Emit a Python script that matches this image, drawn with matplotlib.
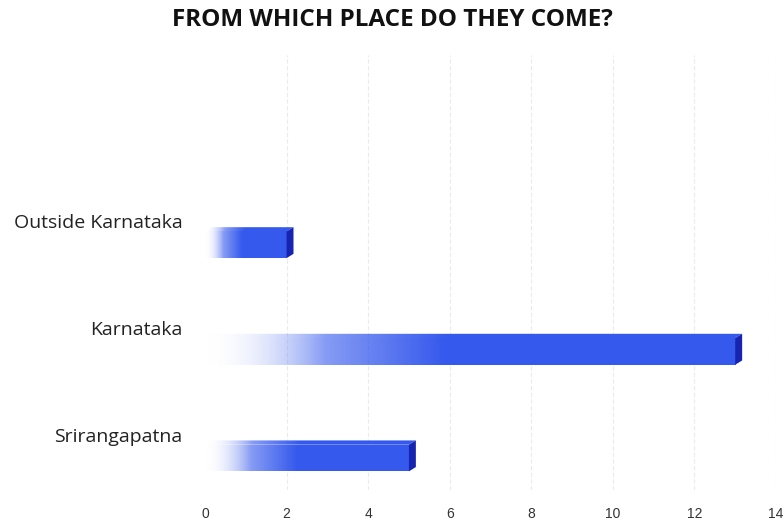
import matplotlib.pyplot as plt
import numpy as np
from matplotlib.colors import LinearSegmentedColormap
from matplotlib.patches import Polygon, Rectangle

places = ['Srirangapatna', 'Karnataka', 'Outside Karnataka']
counts = [5, 13, 2]
x_ticks = [0, 2, 4, 6, 8, 10, 12, 14]

side_color = '#1624b0'
top_color = '#2a47d8'

fig = plt.figure(figsize=(7.84, 5.21), dpi=100)
ax = fig.add_axes([205 / 784, 31 / 521, 571 / 784, 435 / 521])
ax.set_xlim(0, 14)
ax.set_ylim(-0.32, 3.76)

for x in x_ticks[1:]:
    ax.axvline(x, color='#ebebeb', lw=0.8, ls=(0, (4, 2)), zorder=0)

bar_height = 0.25
depth_x = 0.17
depth_y = 0.04
fade = LinearSegmentedColormap.from_list(
    'fade', [(1, 1, 1, 0), (0.21, 0.35, 0.93, 0.6), (0.21, 0.35, 0.93, 1)])
ramp = np.clip(np.linspace(0, 1, 256) / 0.45, 0, 1)[None, :]

for i, (place, count) in enumerate(zip(places, counts)):
    y0 = i - bar_height / 2 - 0.02
    y1 = y0 + bar_height
    # front face: white on the left, fading into solid blue
    im = ax.imshow(ramp, cmap=fade, vmin=0, vmax=1, aspect='auto',
                   extent=(0, count, y0, y1), zorder=2, interpolation='bilinear')
    im.set_clip_path(Rectangle((0, y0), count, bar_height, transform=ax.transData))
    # top face fades the same way as the front
    top = ax.imshow(ramp, cmap=fade, vmin=0, vmax=1, aspect='auto',
                    extent=(0, count + depth_x, y1, y1 + depth_y), zorder=3,
                    interpolation='bilinear')
    top.set_clip_path(Polygon([(0, y1), (depth_x, y1 + depth_y),
                               (count + depth_x, y1 + depth_y), (count, y1)],
                              closed=True, transform=ax.transData))
    ax.add_patch(Polygon([(count, y0), (count + depth_x, y0 + depth_y),
                          (count + depth_x, y1 + depth_y), (count, y1)],
                         closed=True, color=side_color, lw=0, zorder=3))
    ax.text(-0.55, i + 0.18, place, ha='right', va='center', fontsize=14,
            family='Open Sans', color='#222222')

ax.set_xticks(x_ticks)
ax.set_xticklabels([str(t) for t in x_ticks], fontsize=10, family='Liberation Sans')
ax.tick_params(axis='x', length=0, pad=12, colors='#333333')
ax.set_yticks([])
for spine in ax.spines.values():
    spine.set_visible(False)

fig.text(0.5, 0.962, 'FROM WHICH PLACE DO THEY COME?', ha='center', va='center',
         fontsize=17.5, fontweight='bold', family='Open Sans', color='#111111')

fig.savefig('out.png', dpi=100)
